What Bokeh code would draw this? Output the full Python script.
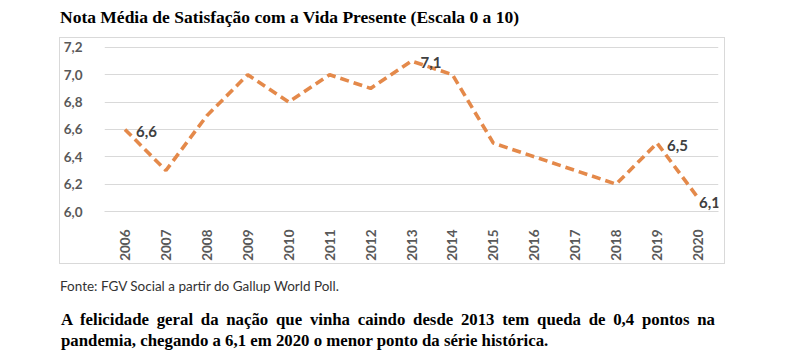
import math
from bokeh.plotting import figure
from bokeh.models import Div, FactorRange, Range1d, FixedTicker, CustomJSTickFormatter, Spacer
from bokeh.layouts import column, row
from bokeh.embed import file_html
from bokeh.resources import INLINE
from bokeh.core.properties import value

# ---------------- data ----------------
years = ["2006", "2007", "2008", "2009", "2010", "2011", "2012", "2013",
         "2014", "2015", "2016", "2017", "2018", "2019", "2020"]
scores = [6.6, 6.3, 6.7, 7.0, 6.8, 7.0, 6.9, 7.1, 7.0, 6.5, 6.4, 6.3, 6.2, 6.5, 6.1]
y_ticks = [6.0, 6.2, 6.4, 6.6, 6.8, 7.0, 7.2]

label_years = ["2006", "2013", "2019", "2020"]
label_values = [6.6, 7.1, 6.5, 6.1]
label_texts = ["6,6", "7,1", "6,5", "6,1"]

title_text = "Nota Média de Satisfação com a Vida Presente (Escala 0 a 10)"
source_text = "Fonte: FGV Social a partir do Gallup World Poll."
note_line1 = "A felicidade geral da nação que vinha caindo desde 2013 tem queda de 0,4 pontos na"
note_line2 = "pandemia, chegando a 6,1 em 2020 o menor ponto da série histórica."

# ---------------- styles ----------------
LINE_COLOR = "#E4894A"
GRID_COLOR = "#d9d9d9"
AXIS_TEXT = "#595959"
LABEL_TEXT = "#404040"
label_dx = [11, 9, 10, 1]
label_dy = [2, 1, 2, 5]

# ---------------- figure ----------------
p = figure(x_range=FactorRange(*years), y_range=Range1d(6.0, 7.25),
           width=664, height=225, output_backend="svg", toolbar_location=None,
           min_border_left=40, min_border_right=6, min_border_top=2, min_border_bottom=50,
           outline_line_color=None, background_fill_color="white", border_fill_color="white")

p.line(years, scores, line_color=LINE_COLOR, line_width=3.6, line_dash="9 5", line_cap="butt")

p.text(x=label_years, y=label_values, text=label_texts,
       x_offset=label_dx, y_offset=label_dy,
       text_font=value("Lato"), text_font_style="bold", text_font_size="15px",
       text_color=LABEL_TEXT, text_baseline="middle", text_align="left")

p.xgrid.grid_line_color = None
p.ygrid.ticker = FixedTicker(ticks=y_ticks)
p.ygrid.grid_line_color = GRID_COLOR
p.ygrid.grid_line_width = 1

p.yaxis.ticker = FixedTicker(ticks=y_ticks)
p.yaxis.formatter = CustomJSTickFormatter(code="return tick.toFixed(1).replace('.', ',');")
p.yaxis.axis_line_color = None
p.yaxis.major_tick_line_color = None
p.yaxis.minor_tick_line_color = None
p.yaxis.major_label_standoff = 16
p.yaxis.major_label_text_font = "Lato"
p.yaxis.major_label_text_font_style = "bold"
p.yaxis.major_label_text_font_size = "13.5px"
p.yaxis.major_label_text_color = AXIS_TEXT

p.xaxis.axis_line_color = GRID_COLOR
p.xaxis.major_tick_line_color = None
p.xaxis.minor_tick_line_color = None
p.xaxis.major_label_orientation = math.pi / 2
p.xaxis.major_label_standoff = 12
p.xaxis.major_label_text_font = "Lato"
p.xaxis.major_label_text_font_style = "bold"
p.xaxis.major_label_text_font_size = "13.5px"
p.xaxis.major_label_text_color = AXIS_TEXT

# light frame around the chart area
box = column(p, styles={"border": f"1px solid {GRID_COLOR}"}, margin=0)

# ---------------- texts ----------------
title_div = Div(
    text=f'<div style="padding-left:60px; padding-top:6.5px; font-family:\'Liberation Serif\'; font-weight:bold; '
         f'font-size:17.5px; line-height:20px; color:#000; white-space:nowrap;">{title_text}</div>',
    width=784, height=37, margin=0)

source_div = Div(
    text=f'<div style="padding-left:60px; padding-top:14px; font-family:Lato; font-size:13.5px; line-height:16px; color:#333; white-space:nowrap;">{source_text}</div>',
    width=784, height=31, margin=0)

note_div = Div(
    text=(f'<div style="margin-left:61px; padding-top:13.5px; font-family:\'Liberation Serif\'; font-weight:bold; font-size:16.8px; line-height:21px; color:#000; width:654px;">'
          f'<div style="text-align:justify; text-align-last:justify;">{note_line1}</div>'
          f'<div style="text-align:left;">{note_line2}</div></div>'),
    width=784, height=56, margin=0)

layout = column(title_div,
                row(Spacer(width=59, height=227, margin=0), box, spacing=0, margin=0),
                source_div, note_div, spacing=0, margin=0)

open("out.html", "w").write(file_html(layout, INLINE))
